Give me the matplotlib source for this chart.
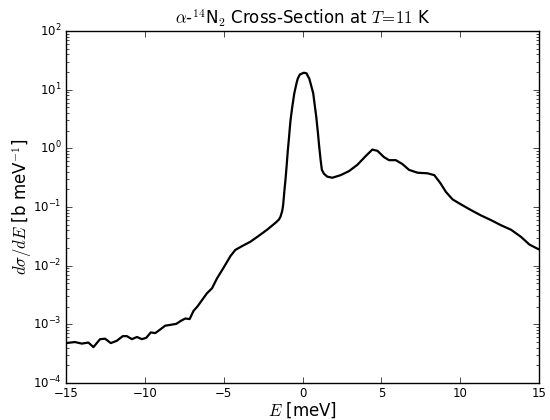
import matplotlib
matplotlib.use('Agg')
import matplotlib.pyplot as plt

plt.style.use('classic')

# energy transfer [meV] and cross-section [b/meV]
energy = [-15.0, -14.43, -14.0, -13.58, -13.26, -12.84, -12.52, -12.16, -11.78, -11.40,
          -11.14, -10.82, -10.50, -10.19, -9.91, -9.62, -9.34, -9.02, -8.71, -8.39,
          -8.01, -7.71, -7.43, -7.16, -6.91, -6.65, -6.37, -6.06, -5.74, -5.42,
          -5.0, -4.57, -4.26, -3.83, -3.30, -2.77, -2.24, -1.71, -1.50, -1.40,
          -1.29, -1.23, -1.14, -1.08, -1.01, -0.93, -0.87, -0.80, -0.76, -0.65,
          -0.52, -0.38, -0.30, -0.17, 0.09, 0.26, 0.34, 0.43, 0.51, 0.68,
          0.79, 0.87, 0.98, 1.06, 1.15, 1.23, 1.36, 1.57,
          1.89, 2.42, 2.95, 3.48, 4.01, 4.43, 4.75, 5.17, 5.49, 5.92,
          6.34, 6.76, 7.30, 7.93, 8.36, 8.74, 9.09, 9.52, 10.05, 10.68,
          11.32, 11.95, 12.59, 13.23, 13.86, 14.39, 14.82, 15.0]
dsde = [4.8e-4, 5.0e-4, 4.7e-4, 4.9e-4, 4.1e-4, 5.6e-4, 5.7e-4, 4.8e-4, 5.25e-4, 6.3e-4,
        6.3e-4, 5.6e-4, 6.1e-4, 5.6e-4, 5.9e-4, 7.3e-4, 7.1e-4, 8.2e-4, 9.5e-4, 9.8e-4,
        1.02e-3, 1.15e-3, 1.26e-3, 1.23e-3, 1.70e-3, 2.04e-3, 2.60e-3, 3.39e-3, 4.12e-3, 6.1e-3,
        9.3e-3, 1.46e-2, 1.86e-2, 2.16e-2, 2.57e-2, 3.24e-2, 4.12e-2, 5.4e-2, 6.1e-2, 6.8e-2,
        8.5e-2, 0.107, 0.20, 0.29, 0.49, 0.93, 1.38, 2.3, 3.0, 5.1,
        8.7, 12.9, 15.5, 18.2, 19.5, 19.0, 17.0, 15.5, 12.9, 8.7,
        5.1, 3.5, 1.82, 1.07, 0.63, 0.43, 0.37, 0.33,
        0.316, 0.35, 0.41, 0.525, 0.74, 0.955, 0.91, 0.71, 0.63, 0.63,
        0.54, 0.43, 0.385, 0.376, 0.35, 0.257, 0.182, 0.135, 0.111, 0.089,
        0.072, 0.060, 0.049, 0.041, 0.031, 0.023, 0.020, 0.019]

fig = plt.figure(figsize=(5.5, 4.2), dpi=100, facecolor='white')
ax = fig.add_axes([0.12, 0.088, 0.86, 0.838])

ax.plot(energy, dsde, 'k-', lw=1.6, solid_joinstyle='round')
ax.set_yscale('log')
ax.set_xlim(-15, 15)
ax.set_ylim(1e-4, 1e2)
ax.set_xticks([-15, -10, -5, 0, 5, 10, 15])
ax.tick_params(labelsize=8.5, pad=3)

ax.set_xlabel(r'$E$ [meV]', fontsize=12, labelpad=0)
ax.set_ylabel(r'$d\sigma/dE$ [b meV$^{-1}$]', fontsize=12, labelpad=-1)
ax.set_title(r'$\alpha$-$^{14}$N$_2$ Cross-Section at $T\!=\!11$ K', fontsize=12, y=1.0)

fig.savefig('out.png', dpi=100, facecolor='white')
